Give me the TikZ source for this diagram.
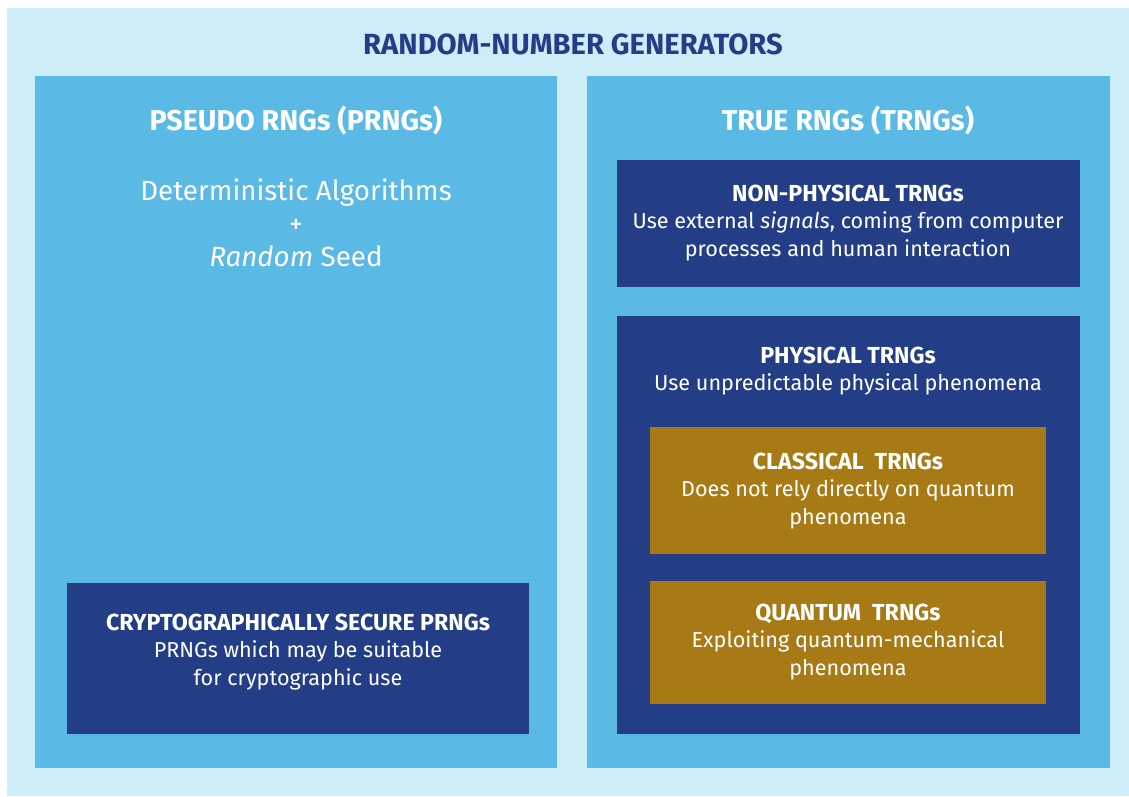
\documentclass[tikz,border=0pt]{standalone}
\usepackage{fontspec}
\setsansfont{Fira Sans}
\usepackage{tikz}
\usetikzlibrary{positioning,fit}
\definecolor{paleblue}{HTML}{CDEDF9}
\definecolor{skyblue}{HTML}{5BB9E6}
\definecolor{navy}{HTML}{233E87}
\definecolor{ochre}{HTML}{A87A15}
\newcommand{\boxhead}[1]{{\bfseries\fontsize{13.2}{15.4}\selectfont #1}}

\begin{document}
\begin{tikzpicture}[x=0.02cm,y=-0.02cm,
  panel/.style={rectangle,fill=skyblue,inner sep=0pt},
  darkbox/.style={rectangle,fill=navy,inner sep=0pt},
  goldbox/.style={rectangle,fill=ochre,inner sep=0pt},
  head/.style={text=white,align=center,font=\sffamily\bfseries\fontsize{16.3}{19}\selectfont},
  body/.style={text=white,align=center,font=\sffamily\fontsize{12.3}{15.4}\selectfont}
]
\useasboundingbox (0,0) rectangle (1129,796);
% background
\node[rectangle,fill=paleblue,inner sep=0pt,fit={(7,8) (1129,796)}] (bg) {};
\node[text=navy,font=\sffamily\bfseries\fontsize{16.6}{19}\selectfont] (title) at (573,44) {RANDOM-NUMBER GENERATORS};
% pseudo panel
\node[panel,fit={(35,76) (557,768)}] (pseudo) {};
\node[head] (pseudohead) at (296,120) {PSEUDO RNGs (PRNGs)};
\node[text=white,align=center,font=\sffamily\fontsize{15.8}{18.8}\selectfont] (pseudotxt) at (296,223)
  {Deterministic Algorithms\\+\\\textit{Random} Seed};
\node[darkbox,fit={(67,583) (529,734)}] (crypto) {};
\node[body] (cryptotxt) at (298,652)
  {\boxhead{CRYPTOGRAPHICALLY SECURE PRNGs}\\PRNGs which may be suitable\\for cryptographic use};
% true panel
\node[panel,fit={(587,76) (1110,768)}] (true) {};
\node[head] (truehead) at (848,120) {TRUE RNGs (TRNGs)};
\node[darkbox,fit={(617,160) (1080,287)}] (nonphys) {};
\node[body] (nonphystxt) at (848,223)
  {\boxhead{NON-PHYSICAL TRNGs}\\Use external \textit{signals}, coming from computer\\processes and human interaction};
\node[darkbox,fit={(617,316) (1080,734)}] (phys) {};
\node[body] (phystxt) at (848,371.5)
  {\boxhead{PHYSICAL TRNGs}\\Use unpredictable physical phenomena};
% gold boxes
\node[goldbox,fit={(650,427) (1046,554)}] (classic) {};
\node[body] (classictxt) at (848,491)
  {\boxhead{CLASSICAL\ \ TRNGs}\\Does not rely directly on quantum\\phenomena};
\node[goldbox,fit={(650,581) (1046,704)}] (quantum) {};
\node[body] (quantumtxt) at (848,642)
  {\boxhead{QUANTUM\ \ TRNGs}\\Exploiting quantum-mechanical\\phenomena};
\end{tikzpicture}
\end{document}
